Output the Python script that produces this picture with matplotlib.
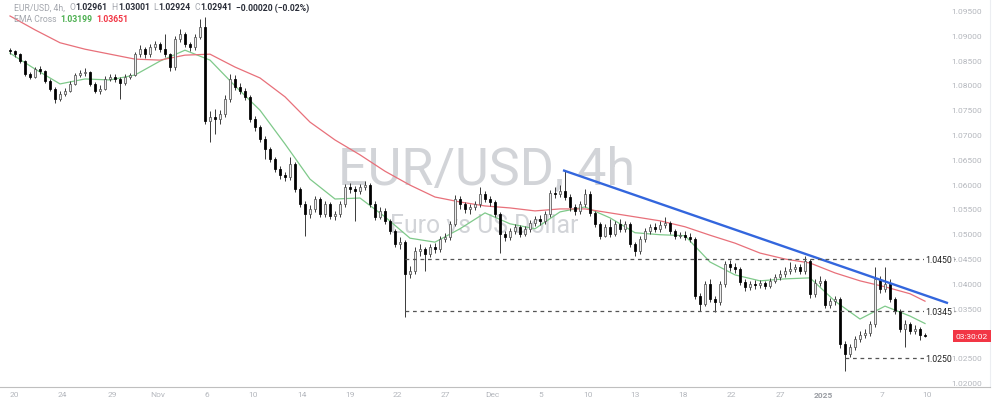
import numpy as np
import matplotlib
matplotlib.use('Agg')
import matplotlib.pyplot as plt
from matplotlib.transforms import blended_transform_factory

plt.rcParams['font.family'] = ['Roboto', 'DejaVu Sans']

# EUR/USD 4h candles; open = previous close
first_open = 1.0871
closes = [
    1.0869, 1.0863, 1.0849, 1.0823, 1.0817, 1.0833, 1.0829, 1.0809, 1.0793, 1.0773,
    1.0783, 1.0789, 1.0803, 1.0821, 1.0825, 1.0827, 1.0803, 1.0789, 1.0793, 1.0813,
    1.0817, 1.0813, 1.0805, 1.0817, 1.0821, 1.0863, 1.0873, 1.0863, 1.0877, 1.0883,
    1.0873, 1.0863, 1.0837, 1.0894, 1.0904, 1.0883, 1.0877, 1.0898, 1.0918, 1.0728,
    1.0736, 1.0732, 1.0742, 1.0773, 1.0813, 1.0797, 1.0789, 1.0777, 1.0732, 1.0716,
    1.0692, 1.0672, 1.0652, 1.0632, 1.0619, 1.0615, 1.0642, 1.0591, 1.0561, 1.0541,
    1.0551, 1.0571, 1.0541, 1.0561, 1.0537, 1.0541, 1.0561, 1.0595, 1.0591, 1.0587,
    1.0595, 1.0599, 1.0561, 1.0535, 1.0547, 1.0527, 1.0507, 1.0480, 1.0484, 1.0420,
    1.0426, 1.0466, 1.0470, 1.0460, 1.0474, 1.0470, 1.0490, 1.0494, 1.0521, 1.0571,
    1.0561, 1.0551, 1.0555, 1.0561, 1.0581, 1.0571, 1.0565, 1.0541, 1.0501, 1.0494,
    1.0507, 1.0515, 1.0501, 1.0511, 1.0523, 1.0531, 1.0527, 1.0541, 1.0583, 1.0581,
    1.0587, 1.0575, 1.0555, 1.0547, 1.0561, 1.0581, 1.0543, 1.0521, 1.0497, 1.0515,
    1.0501, 1.0521, 1.0511, 1.0521, 1.0480, 1.0466, 1.0490, 1.0507, 1.0515, 1.0511,
    1.0519, 1.0523, 1.0507, 1.0497, 1.0499, 1.0494, 1.0490, 1.0376, 1.0359, 1.0400,
    1.0369, 1.0363, 1.0400, 1.0440, 1.0434, 1.0430, 1.0404, 1.0394, 1.0400, 1.0398,
    1.0402, 1.0396, 1.0406, 1.0414, 1.0420, 1.0426, 1.0430, 1.0434, 1.0426, 1.0446,
    1.0380, 1.0402, 1.0406, 1.0357, 1.0365, 1.0369, 1.0279, 1.0258, 1.0273, 1.0289,
    1.0297, 1.0301, 1.0319, 1.0410, 1.0390, 1.0400, 1.0369, 1.0345, 1.0309, 1.0319,
    1.0305, 1.0309, 1.0296, 1.0294,
]
highs = [
    1.0876, 1.0872, 1.0866, 1.0852, 1.0828, 1.0838, 1.0840, 1.0832, 1.0812, 1.0796,
    1.0788, 1.0794, 1.0808, 1.0826, 1.0832, 1.0836, 1.0830, 1.0806, 1.0800, 1.0818,
    1.0824, 1.0822, 1.0816, 1.0822, 1.0826, 1.0868, 1.0882, 1.0878, 1.0884, 1.0890,
    1.0888, 1.0904, 1.0866, 1.0900, 1.0914, 1.0908, 1.0888, 1.0904, 1.0934, 1.0937,
    1.0748, 1.0752, 1.0750, 1.0780, 1.0823, 1.0820, 1.0804, 1.0794, 1.0780, 1.0738,
    1.0720, 1.0698, 1.0676, 1.0656, 1.0638, 1.0626, 1.0656, 1.0646, 1.0596, 1.0566,
    1.0558, 1.0577, 1.0575, 1.0567, 1.0565, 1.0546, 1.0566, 1.0601, 1.0603, 1.0597,
    1.0601, 1.0607, 1.0603, 1.0567, 1.0555, 1.0553, 1.0531, 1.0511, 1.0494, 1.0488,
    1.0436, 1.0474, 1.0480, 1.0474, 1.0480, 1.0482, 1.0496, 1.0502, 1.0527, 1.0579,
    1.0577, 1.0565, 1.0561, 1.0567, 1.0595, 1.0587, 1.0577, 1.0569, 1.0545, 1.0507,
    1.0513, 1.0521, 1.0519, 1.0517, 1.0529, 1.0537, 1.0539, 1.0547, 1.0589, 1.0595,
    1.0599, 1.0629, 1.0581, 1.0561, 1.0567, 1.0591, 1.0587, 1.0547, 1.0525, 1.0521,
    1.0531, 1.0527, 1.0531, 1.0527, 1.0525, 1.0484, 1.0496, 1.0513, 1.0521, 1.0523,
    1.0527, 1.0535, 1.0527, 1.0511, 1.0505, 1.0507, 1.0503, 1.0494, 1.0382, 1.0406,
    1.0410, 1.0376, 1.0406, 1.0446, 1.0448, 1.0442, 1.0434, 1.0410, 1.0406, 1.0408,
    1.0408, 1.0406, 1.0412, 1.0420, 1.0428, 1.0434, 1.0444, 1.0440, 1.0440, 1.0456,
    1.0450, 1.0410, 1.0416, 1.0410, 1.0372, 1.0376, 1.0373, 1.0285, 1.0279, 1.0295,
    1.0305, 1.0309, 1.0325, 1.0434, 1.0416, 1.0434, 1.0410, 1.0373, 1.0349, 1.0327,
    1.0323, 1.0317, 1.0313, 1.0300,
]
lows = [
    1.0864, 1.0858, 1.0845, 1.0818, 1.0812, 1.0814, 1.0824, 1.0804, 1.0788, 1.0765,
    1.0768, 1.0778, 1.0786, 1.0800, 1.0816, 1.0818, 1.0798, 1.0784, 1.0782, 1.0790,
    1.0808, 1.0806, 1.0773, 1.0800, 1.0812, 1.0818, 1.0858, 1.0856, 1.0858, 1.0872,
    1.0868, 1.0858, 1.0830, 1.0832, 1.0888, 1.0878, 1.0870, 1.0872, 1.0894, 1.0722,
    1.0686, 1.0702, 1.0722, 1.0736, 1.0766, 1.0790, 1.0782, 1.0770, 1.0726, 1.0708,
    1.0686, 1.0652, 1.0646, 1.0626, 1.0612, 1.0608, 1.0610, 1.0585, 1.0555, 1.0497,
    1.0532, 1.0545, 1.0535, 1.0535, 1.0531, 1.0529, 1.0535, 1.0555, 1.0583, 1.0527,
    1.0581, 1.0589, 1.0555, 1.0529, 1.0531, 1.0521, 1.0501, 1.0474, 1.0470, 1.0333,
    1.0412, 1.0420, 1.0456, 1.0426, 1.0454, 1.0462, 1.0464, 1.0484, 1.0488, 1.0517,
    1.0551, 1.0543, 1.0541, 1.0549, 1.0555, 1.0565, 1.0557, 1.0535, 1.0462, 1.0486,
    1.0488, 1.0501, 1.0494, 1.0497, 1.0505, 1.0517, 1.0519, 1.0521, 1.0535, 1.0573,
    1.0575, 1.0569, 1.0547, 1.0539, 1.0541, 1.0555, 1.0537, 1.0515, 1.0490, 1.0494,
    1.0494, 1.0497, 1.0505, 1.0505, 1.0474, 1.0456, 1.0460, 1.0484, 1.0501, 1.0505,
    1.0505, 1.0513, 1.0501, 1.0490, 1.0492, 1.0488, 1.0484, 1.0369, 1.0345, 1.0355,
    1.0363, 1.0343, 1.0357, 1.0394, 1.0426, 1.0422, 1.0398, 1.0386, 1.0388, 1.0390,
    1.0392, 1.0390, 1.0392, 1.0402, 1.0408, 1.0414, 1.0420, 1.0424, 1.0420, 1.0420,
    1.0372, 1.0374, 1.0396, 1.0351, 1.0351, 1.0357, 1.0271, 1.0224, 1.0252, 1.0267,
    1.0283, 1.0291, 1.0295, 1.0313, 1.0382, 1.0384, 1.0363, 1.0339, 1.0303, 1.0273,
    1.0299, 1.0299, 1.0287, 1.0292,
]

# EMA Cross lines, sampled every few candles
ema_idx = [0, 5, 10, 15, 20, 25, 30, 35, 40, 45, 50, 55, 60, 65, 70, 75, 80, 85, 90,
           95, 100, 105, 110, 115, 120, 125, 130, 135, 140, 145, 150, 155, 160, 165,
           170, 175, 180, 183]
ema_fast = [1.0865, 1.0833, 1.0803, 1.0813, 1.0811, 1.0821, 1.0849, 1.0871, 1.0851, 1.0799,
            1.0750, 1.0682, 1.0611, 1.0571, 1.0573, 1.0535, 1.0492, 1.0484, 1.0511, 1.0543,
            1.0521, 1.0511, 1.0545, 1.0555, 1.0533, 1.0503, 1.0499, 1.0497, 1.0444, 1.0418,
            1.0406, 1.0410, 1.0412, 1.0365, 1.0329, 1.0355, 1.0335, 1.0320]
ema_slow = [1.0940, 1.0912, 1.0886, 1.0873, 1.0863, 1.0853, 1.0851, 1.0861, 1.0863, 1.0837,
            1.0815, 1.0777, 1.0726, 1.0690, 1.0660, 1.0627, 1.0599, 1.0575, 1.0565, 1.0557,
            1.0553, 1.0547, 1.0551, 1.0551, 1.0543, 1.0535, 1.0527, 1.0515, 1.0498, 1.0482,
            1.0462, 1.0450, 1.0442, 1.0422, 1.0406, 1.0394, 1.0380, 1.0365]

# drawings
trend_idx = [110.6, 187.6]
trend_px = [1.0629, 1.0361]
levels = [1.0450, 1.0345, 1.0250]
level_start = [79, 79, 167]
level_labels = ['1.0450', '1.0345', '1.0250']

date_labels = ['20', '24', '29', 'Nov', '6', '10', '14', '19', '22', '27', 'Dec',
               '5', '10', '13', '18', '22', '27', '2025', '7', '10']
date_px = [14, 62, 112, 158, 207, 253, 302, 350, 397, 445, 492,
           541, 588, 635, 683, 731, 780, 823, 882, 927]
# 1.030 sits under the countdown label, so it is not shown
price_ticks = [1.020, 1.025, 1.035, 1.040, 1.045, 1.050, 1.055, 1.060,
               1.065, 1.070, 1.075, 1.080, 1.085, 1.090, 1.095]

W, H = 1000, 414
fig = plt.figure(figsize=(W / 100, H / 100), dpi=100)
fig.patch.set_facecolor('white')
ax = fig.add_axes([0, 26 / H, 0.99, 388 / H])
ax.set_xlim(-2, 196)
ax.set_ylim(1.01920, 1.09742)

# watermark
ax.text(487 / W, 1 - 170 / H, 'EUR/USD, 4h', transform=fig.transFigure, fontsize=37.5,
        color='#d2d4d8', ha='center', va='center', zorder=0)
ax.text(484 / W, 1 - 226 / H, 'Euro vs US Dollar', transform=fig.transFigure, fontsize=17.8,
        color='#d2d4d8', ha='center', va='center', zorder=0)

# candles
c = np.array(closes)
o = np.concatenate([[first_open], c[:-1]])
h = np.maximum(np.array(highs), np.maximum(o, c))
l = np.minimum(np.array(lows), np.minimum(o, c))
x = np.arange(len(c))
up = c >= o
ax.vlines(x, l, h, color='#3a3a3a', lw=0.7, zorder=3)
bottoms = np.minimum(o, c)
heights = np.maximum(np.abs(c - o), 0.00006)
ax.bar(x[up], heights[up], bottom=bottoms[up], width=0.5, color='#ededed',
       edgecolor='#555555', linewidth=0.55, zorder=4)
ax.bar(x[~up], heights[~up], bottom=bottoms[~up], width=0.5, color='#000000',
       edgecolor='#000000', linewidth=0.55, zorder=4)

# EMA lines
ax.plot(ema_idx, ema_fast, color='#7fc98a', lw=0.9, zorder=2)
ax.plot(ema_idx, ema_slow, color='#e8707a', lw=0.9, zorder=2)

# trend line
ax.plot(trend_idx, trend_px, color='#3366dd', lw=1.7, zorder=5, solid_capstyle='butt')

# horizontal levels
xr = blended_transform_factory(ax.transAxes, ax.transData)
for lv, st, lab in zip(levels, level_start, level_labels):
    ax.plot([st, 189], [lv, lv], color='#555555', lw=0.9, dashes=(3, 3), zorder=5)
    ax.text(939 / 990, lv, lab, transform=xr, fontsize=6.3, color='#222222',
            ha='center', va='center', zorder=6,
            bbox=dict(facecolor='white', edgecolor='none', pad=1.2))

# price scale
for p in price_ticks:
    ax.text(967 / 990, p, '%.5f' % p, transform=xr, fontsize=6, color='#b4b7bd',
            ha='center', va='center', zorder=6)
ax.text(972 / 990, 1.0294, '03:30:02', transform=xr, fontsize=6, color='white',
        ha='center', va='center', zorder=7,
        bbox=dict(facecolor='#f23645', edgecolor='none', boxstyle='square,pad=0.35'))

# time scale
ax.set_xticks([(p - 10) / 5 for p in date_px])
ax.set_xticklabels(date_labels)
ax.tick_params(axis='x', length=0, pad=3, labelsize=6, labelcolor='#b4b7bd')
for t in ax.get_xticklabels():
    if t.get_text() == '2025':
        t.set_fontweight('bold')
        t.set_color('#9a9da3')
ax.set_yticks([])
for s in ['top', 'left']:
    ax.spines[s].set_visible(False)
ax.spines['bottom'].set_color('#bfbfbf')
ax.spines['right'].set_color('#eceef2')

# legend lines top-left
renderer = fig.canvas.get_renderer()


def text_chain(x_px, y_px, parts, size=6.2):
    for s, col, bold, gap in parts:
        x_px += gap
        t = fig.text(x_px / W, 1 - y_px / H, s, fontsize=size, color=col,
                     fontweight='bold' if bold else 'normal', va='center', ha='left')
        x_px += t.get_window_extent(renderer).width


grey, dark = '#a3a6ad', '#2a2e39'
text_chain(14, 8, [('EUR/USD, 4h,', grey, False, 0),
                   ('O', grey, False, 5), ('1.02961', dark, True, 0),
                   ('H', grey, False, 4), ('1.03001', dark, True, 0),
                   ('L', grey, False, 4), ('1.02924', dark, True, 0),
                   ('C', grey, False, 4), ('1.02941', dark, True, 0),
                   ('\u22120.00020 (\u22120.02%)', dark, True, 4)])
text_chain(14, 19, [('EMA Cross', grey, False, 0),
                    ('1.03199', '#4caf50', True, 4),
                    ('1.03651', '#f23645', True, 4)])

fig.savefig('out.png', dpi=100, facecolor='white')
